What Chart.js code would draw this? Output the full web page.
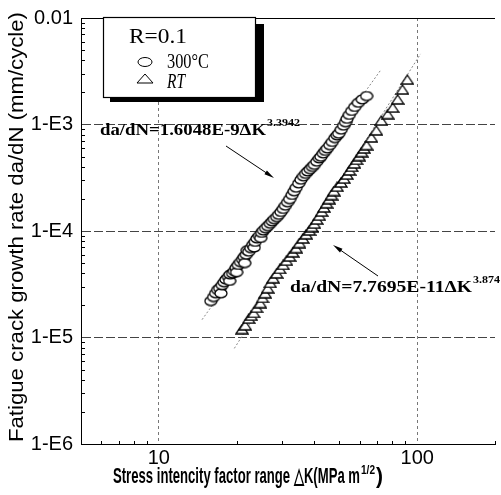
<!DOCTYPE html>
<html>
<head>
<meta charset="utf-8">
<script src="https://cdn.jsdelivr.net/npm/chart.js@4.4.1/dist/chart.umd.min.js"></script>
<style>
  html, body { margin: 0; padding: 0; background: #fff; }
  canvas { display: block; }
</style>
</head>
<body>
<canvas id="c" width="501" height="495"></canvas>
<script>
// 300°C series (ΔK in MPa m^1/2, da/dN in mm/cycle)
const k300 = [15.9, 16.3, 16.6, 16.9, 17.2, 17.4, 17.6, 17.9, 18.2, 18.6, 18.8, 18.9, 19.3, 19.6, 19.9,
  20.0, 20.3, 20.7, 21.1, 21.4, 21.5, 21.8, 22.0, 22.3, 22.7, 23.1, 23.4, 23.6, 24.0, 24.5, 24.8, 25.0,
  25.4, 25.9, 26.4, 27.0, 27.5, 28.0, 28.6, 29.1, 29.7, 30.3, 30.9, 31.5, 32.1, 32.8, 33.4, 34.0, 34.8,
  35.5, 36.3, 37.0, 37.7, 38.5, 39.3, 40.0, 40.9, 41.8, 42.4, 43.3, 44.1, 44.9, 45.9, 46.9, 48.0, 49.0,
  49.7, 50.8, 51.9, 52.8, 53.5, 54.6, 55.8, 57.3, 59.2, 61.3, 63.7];
const rate300 = [2.2e-5, 2.4e-5, 2.6e-5, 2.8e-5, 2.9e-5, 2.6e-5, 3.1e-5, 3.3e-5, 3.5e-5, 3.7e-5, 3.4e-5,
  3.9e-5, 4.0e-5, 4.2e-5, 4.5e-5, 4.1e-5, 4.8e-5, 5.1e-5, 5.4e-5, 5.7e-5, 5.0e-5, 6.0e-5, 6.6e-5, 6.4e-5,
  6.9e-5, 7.4e-5, 7.0e-5, 7.9e-5, 8.5e-5, 9.0e-5, 8.6e-5, 9.6e-5, 1.01e-4, 1.06e-4, 1.11e-4, 1.17e-4,
  1.23e-4, 1.29e-4, 1.35e-4, 1.42e-4, 1.51e-4, 1.61e-4, 1.73e-4, 1.86e-4, 1.99e-4, 2.18e-4, 2.36e-4,
  2.55e-4, 2.80e-4, 3.03e-4, 3.26e-4, 3.44e-4, 3.62e-4, 3.81e-4, 4.00e-4, 4.18e-4, 4.48e-4, 4.80e-4,
  4.98e-4, 5.35e-4, 5.65e-4, 5.96e-4, 6.40e-4, 6.85e-4, 7.45e-4, 7.90e-4, 8.20e-4, 8.95e-4, 9.75e-4,
  1.05e-3, 1.13e-3, 1.23e-3, 1.34e-3, 1.46e-3, 1.60e-3, 1.72e-3, 1.85e-3];

// RT series
const kRT = [21.0, 21.6, 22.3, 22.8, 23.3, 23.9, 24.7, 25.2, 25.8, 26.4, 27.0, 27.7, 28.6, 29.4, 30.3,
  31.2, 32.1, 33.0, 34.0, 35.0, 36.1, 37.2, 38.3, 39.1, 40.0, 40.9, 41.8, 42.7, 43.6, 44.6, 45.6, 46.6,
  47.6, 49.0, 50.7, 52.1, 53.5, 54.7, 55.9, 57.1, 58.3, 59.6, 61.0, 62.3, 63.7, 66.5, 69.5, 72.6, 76.9,
  80.4, 84.0, 87.7, 91.6];
const rateRT = [1.2e-5, 1.3e-5, 1.5e-5, 1.6e-5, 1.7e-5, 1.9e-5, 2.1e-5, 2.35e-5, 2.6e-5, 2.9e-5, 3.25e-5,
  3.6e-5, 4.0e-5, 4.4e-5, 4.8e-5, 5.25e-5, 5.75e-5, 6.3e-5, 6.9e-5, 7.7e-5, 8.5e-5, 9.3e-5, 1.01e-4,
  1.09e-4, 1.17e-4, 1.28e-4, 1.39e-4, 1.52e-4, 1.66e-4, 1.82e-4, 1.99e-4, 2.17e-4, 2.37e-4, 2.6e-4,
  2.85e-4, 3.1e-4, 3.38e-4, 3.7e-4, 4.0e-4, 4.3e-4, 4.65e-4, 5.05e-4, 5.5e-4, 5.95e-4, 6.4e-4, 7.55e-4,
  8.8e-4, 1.09e-3, 1.25e-3, 1.44e-3, 1.72e-3, 2.13e-3, 2.64e-3];

// fitted lines, end points
const fitK300 = [14.7, 72.6];
const fitRate300 = [1.47e-5, 3.3e-3];
const fitKRT = [19.6, 103];
const fitRateRT = [7.9e-6, 4.6e-3];

const xTicks = [10, 100];
const xTickLabels = ['10', '100'];
const yTicks = [1e-6, 1e-5, 1e-4, 1e-3, 1e-2];
const yTickLabels = ['1-E6', '1-E5', '1-E4', '1-E3', '0.01'];

const pts = (xs, ys) => xs.map((x, i) => ({ x, y: ys[i] }));

function marker(kind) {
  const c = document.createElement('canvas');
  c.width = 14; c.height = 11;
  const g = c.getContext('2d');
  g.fillStyle = '#fff'; g.strokeStyle = '#000'; g.lineWidth = 1.3;
  g.beginPath();
  if (kind === 'ellipse') g.ellipse(7, 5.5, 6, 4.4, 0, 0, Math.PI * 2);
  else { g.moveTo(7, 1); g.lineTo(13, 10); g.lineTo(1, 10); g.closePath(); }
  g.fill(); g.stroke();
  return c;
}
const ellipseImg = marker('ellipse');
const triImg = marker('tri');

const SANS = "'Liberation Sans', Arial, sans-serif";
const NARROW = "'Liberation Sans Narrow', 'Liberation Sans', Arial, sans-serif";
const SERIF = "'Liberation Serif', 'Times New Roman', serif";

// draw text squeezed/stretched to a given width
function fitText(ctx, text, x, y, font, width) {
  ctx.save();
  ctx.font = font;
  const w = ctx.measureText(text).width;
  ctx.translate(x, y);
  ctx.scale(width ? width / w : 1, 1);
  ctx.textAlign = 'left';
  ctx.fillText(text, 0, 0);
  ctx.restore();
}

// text with a superscript: main part fitted to w1, sup fitted to w2
function supText(ctx, main, sup, x, y, font, supFont, w1, w2, rise) {
  fitText(ctx, main, x, y, font, w1);
  fitText(ctx, sup, x + w1 + 1, y - rise, supFont, w2);
}

function arrow(ctx, x1, y1, x2, y2) {
  const a = Math.atan2(y2 - y1, x2 - x1);
  ctx.save();
  ctx.strokeStyle = '#000'; ctx.fillStyle = '#000'; ctx.lineWidth = 1;
  ctx.beginPath(); ctx.moveTo(x1, y1); ctx.lineTo(x2 - 6 * Math.cos(a), y2 - 6 * Math.sin(a)); ctx.stroke();
  ctx.beginPath();
  ctx.moveTo(x2, y2);
  ctx.lineTo(x2 - 10 * Math.cos(a) + 2.2 * Math.sin(a), y2 - 10 * Math.sin(a) - 2.2 * Math.cos(a));
  ctx.lineTo(x2 - 10 * Math.cos(a) - 2.2 * Math.sin(a), y2 - 10 * Math.sin(a) + 2.2 * Math.cos(a));
  ctx.closePath(); ctx.fill();
  ctx.restore();
}

const decor = {
  id: 'decor',
  beforeDatasetsDraw(chart) {
    const { ctx, chartArea: a, scales: { x, y } } = chart;
    ctx.save();
    ctx.strokeStyle = '#000'; ctx.lineWidth = 1;
    ctx.beginPath();
    // top frame line
    ctx.moveTo(a.left, a.top + 0.5); ctx.lineTo(a.right, a.top + 0.5);
    // minor ticks
    for (let d = -6; d < -2; d++) {
      for (let m = 2; m < 10; m++) {
        const py = Math.round(y.getPixelForValue(m * Math.pow(10, d))) + 0.5;
        ctx.moveTo(a.left, py); ctx.lineTo(a.left + 4, py);
      }
    }
    for (let d = 0; d < 3; d++) {
      for (let m = 1; m < 10; m++) {
        const v = m * Math.pow(10, d);
        if (v < 6 || v > 200 || m === 1) continue;
        const px = Math.round(x.getPixelForValue(v)) + 0.5;
        ctx.moveTo(px, a.bottom); ctx.lineTo(px, a.bottom - 3);
      }
    }
    ctx.stroke();
    ctx.restore();
  },
  afterDraw(chart) {
    const { ctx } = chart;
    ctx.save();
    ctx.fillStyle = '#000';
    ctx.textBaseline = 'alphabetic';

    // y title
    ctx.save();
    ctx.translate(23, 227);
    ctx.rotate(-Math.PI / 2);
    fitText(ctx, 'Fatigue crack growth rate da/dN (mm/cycle)', -215, 0, '21px ' + SANS, 430);
    ctx.restore();

    // x title
    supText(ctx, 'Stress intencity factor range \u25B3K(MPa m', '1/2', 113, 483,
      'bold 22px ' + NARROW, 'bold 12px ' + NARROW, 247, 14, 9);
    fitText(ctx, ')', 376, 483, 'bold 22px ' + NARROW, 7);

    // legend box with shadow
    ctx.fillStyle = '#000';
    ctx.fillRect(110, 97, 154, 5);
    ctx.fillRect(256, 24, 8, 78);
    ctx.fillStyle = '#fff';
    ctx.fillRect(103, 17, 152, 80);
    ctx.strokeStyle = '#000'; ctx.lineWidth = 1.2;
    ctx.strokeRect(103.5, 17.5, 152, 80);
    ctx.fillStyle = '#000';
    fitText(ctx, 'R=0.1', 129, 43, '21px ' + SERIF, 58);
    ctx.save();
    ctx.lineWidth = 1; ctx.fillStyle = '#fff';
    ctx.beginPath(); ctx.ellipse(145, 62, 7, 4.5, 0, 0, Math.PI * 2); ctx.fill(); ctx.stroke();
    ctx.beginPath(); ctx.moveTo(145, 74); ctx.lineTo(153, 83); ctx.lineTo(137, 83); ctx.closePath(); ctx.fill(); ctx.stroke();
    ctx.restore();
    fitText(ctx, '300\u00B0C', 167, 68, '20px ' + SERIF, 42);
    fitText(ctx, 'RT', 167, 88, 'italic 20px ' + SERIF, 18);

    // fit equations
    supText(ctx, 'da/dN=1.6048E-9\u0394K', '3.3942', 100, 135,
      'bold 16px ' + SERIF, 'bold 11px ' + SERIF, 166, 33, 9);
    arrow(ctx, 226, 146, 274, 178);
    supText(ctx, 'da/dN=7.7695E-11\u0394K', '3.874', 290, 292,
      'bold 16px ' + SERIF, 'bold 11px ' + SERIF, 182, 27, 9);
    arrow(ctx, 378, 276, 333, 245);
    ctx.restore();
  }
};

new Chart(document.getElementById('c'), {
  type: 'scatter',
  data: {
    datasets: [
      {
        label: '300\u00B0C', data: pts(k300, rate300),
        pointStyle: ellipseImg, pointRadius: 5
      },
      {
        label: 'RT', data: pts(kRT, rateRT),
        pointStyle: triImg, pointRadius: 5
      },
      {
        label: 'fit 300', data: pts(fitK300, fitRate300), showLine: true,
        borderColor: '#888', borderWidth: 1, borderDash: [2, 2], pointRadius: 0
      },
      {
        label: 'fit RT', data: pts(fitKRT, fitRateRT), showLine: true,
        borderColor: '#888', borderWidth: 1, borderDash: [2, 2], pointRadius: 0
      }
    ]
  },
  options: {
    responsive: false,
    animation: false,
    layout: { padding: { top: 11, right: 0, left: 0, bottom: 0 } },
    plugins: { legend: { display: false }, tooltip: { enabled: false } },
    scales: {
      x: {
        type: 'logarithmic', min: 5, max: 200,
        afterBuildTicks: (s) => { s.ticks = xTicks.map((v) => ({ value: v })); },
        afterFit: (s) => { s.height = 51; },
        ticks: {
          color: '#000', padding: 4, maxRotation: 0, autoSkip: false,
          font: { family: NARROW, size: 20, lineHeight: 1 },
          callback: (v, i) => xTickLabels[i]
        },
        grid: { color: '#777', lineWidth: 1, drawTicks: false },
        border: { color: '#000', width: 1, dash: [3, 3] }
      },
      y: {
        type: 'logarithmic', min: 1e-6, max: 1e-2,
        afterBuildTicks: (s) => { s.ticks = yTicks.map((v) => ({ value: v })); },
        afterFit: (s) => { s.width = 81; },
        ticks: {
          color: '#000', padding: 8, autoSkip: false,
          font: { family: NARROW, size: 20, lineHeight: 1 },
          callback: (v, i) => yTickLabels[i]
        },
        grid: {
          color: (c) => (c.tick && (c.tick.value === 1e-6 || c.tick.value === 1e-2)) ? 'rgba(0,0,0,0)' : '#444',
          lineWidth: 1, drawTicks: false
        },
        border: { color: '#000', width: 1, dash: [9, 3] }
      }
    }
  },
  plugins: [decor]
});
</script>
</body>
</html>
